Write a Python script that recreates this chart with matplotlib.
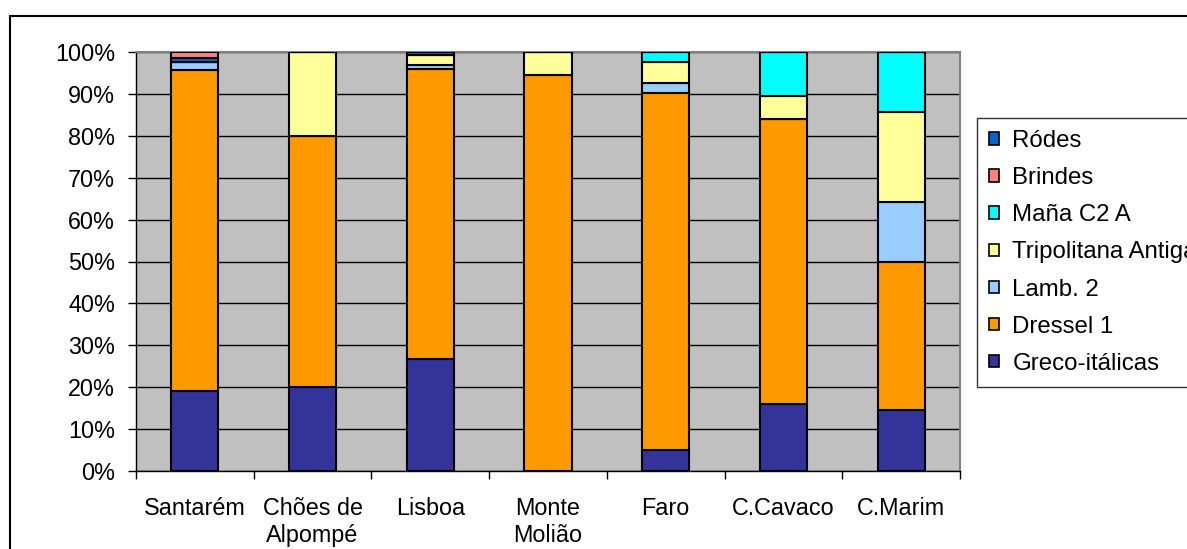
import matplotlib
matplotlib.use("Agg")
import matplotlib.pyplot as plt
from matplotlib.patches import Rectangle, Patch
import numpy as np

plt.rcParams['font.family'] = ['Liberation Sans', 'DejaVu Sans']

categories = ["Santarém", "Chões de\nAlpompé", "Lisboa", "Monte\nMolião", "Faro", "C.Cavaco", "C.Marim"]
greco = [19.0, 20.0, 26.8, 0.0, 5.0, 16.0, 14.6]
dressel = [76.8, 60.0, 69.1, 94.5, 85.3, 68.0, 35.2]
lamb = [1.7, 0.0, 1.0, 0.0, 2.2, 0.0, 14.3]
tripolitana = [0.0, 20.0, 2.5, 5.5, 5.1, 5.5, 21.5]
mana = [0.0, 0.0, 0.0, 0.0, 2.4, 10.5, 14.4]
brindes = [1.5, 0.0, 0.0, 0.0, 0.0, 0.0, 0.0]
rodes = [1.0, 0.0, 0.6, 0.0, 0.0, 0.0, 0.0]

series = [
    ("Greco-itálicas", greco, "#333399"),
    ("Dressel 1", dressel, "#FF9900"),
    ("Lamb. 2", lamb, "#99CCFF"),
    ("Tripolitana Antiga", tripolitana, "#FFFF99"),
    ("Maña C2 A", mana, "#00FFFF"),
    ("Ródes", rodes, "#0066CC"),
    ("Brindes", brindes, "#FF8080"),
]
legend_order = ["Ródes", "Brindes", "Maña C2 A", "Tripolitana Antiga", "Lamb. 2", "Dressel 1", "Greco-itálicas"]
yticks = [0, 10, 20, 30, 40, 50, 60, 70, 80, 90, 100]

W, H = 1187, 549
fig = plt.figure(figsize=(W / 100, H / 100), dpi=100)
fig.patch.set_facecolor("white")

# outer chart border (clipped at right/bottom)
fig.patches.append(Rectangle((10 / W, -0.2), 1.2, 1 - 16 / H + 0.2, transform=fig.transFigure,
                             fill=False, edgecolor="black", linewidth=1.5))

left, right, top, bottom = 136, 960, 52, 471
ax = fig.add_axes([left / W, 1 - bottom / H, (right - left) / W, (bottom - top) / H])
ax.set_facecolor("#C0C0C0")

x = np.arange(len(categories))
base = np.zeros(len(categories))
handles = {}
for name, vals, color in series:
    v = np.array(vals)
    ax.bar(x, v, width=0.4, bottom=base, color=color, edgecolor="black", linewidth=1.5, zorder=3)
    handles[name] = Patch(facecolor=color, edgecolor="black", linewidth=1.2)
    base = base + v

ax.set_xlim(-0.5, len(categories) - 0.5)
ax.set_ylim(0, 100)
ax.set_yticks(yticks)
ax.set_yticklabels([f"{t}%" for t in yticks])
ax.yaxis.grid(True, color="black", linewidth=1.0, zorder=1)
ax.set_axisbelow(True)

ax.set_xticks(x)
ax.set_xticklabels(categories)
ax.set_xticks(np.arange(-0.5, len(categories), 1.0), minor=True)
ax.tick_params(axis="x", which="major", length=0, pad=19, labelsize=16.8)
ax.tick_params(axis="x", which="minor", length=6, width=1.0, direction="out")
ax.tick_params(axis="y", length=6, width=1.0, pad=9, labelsize=16.8)

for s in ["left", "bottom"]:
    ax.spines[s].set_color("black")
    ax.spines[s].set_linewidth(1.0)
for s in ["top", "right"]:
    ax.spines[s].set_color("#808080")
    ax.spines[s].set_linewidth(1.5)

leg = fig.legend([handles[n] for n in legend_order], legend_order,
                 loc="upper left", bbox_to_anchor=(977 / W, 1 - 118 / H),
                 bbox_transform=fig.transFigure, fontsize=17.3, borderaxespad=0,
                 frameon=True, fancybox=False, handlelength=0.42, handleheight=0.42,
                 handletextpad=0.55, labelspacing=0.63, borderpad=0.5)
leg.get_frame().set_edgecolor("black")
leg.get_frame().set_linewidth(1.0)

fig.savefig("out.png", dpi=100)
